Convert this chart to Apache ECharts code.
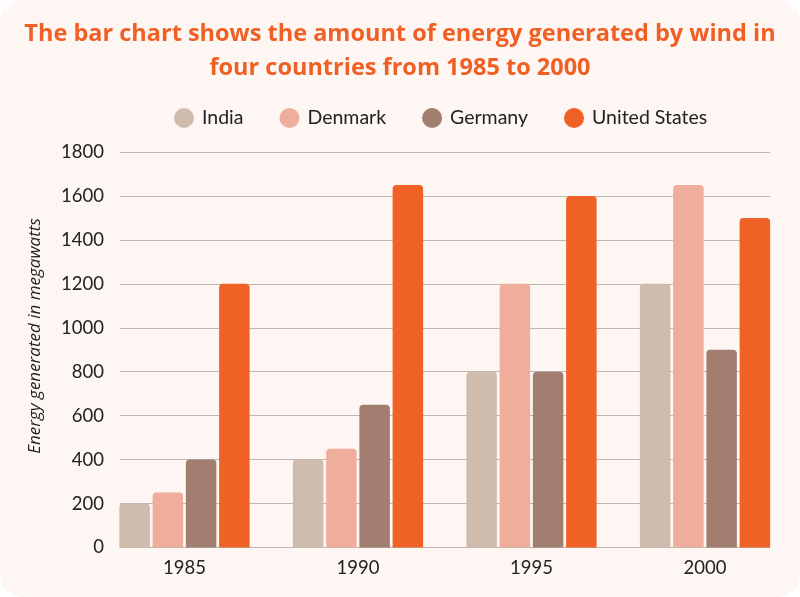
<!DOCTYPE html>
<html>
<head>
<meta charset="utf-8">
<script src="https://cdn.jsdelivr.net/npm/echarts@6/dist/echarts.min.js"></script>
<style>
    html, body { margin: 0; padding: 0; background: #ffffff; }
    #chart { width: 800px; height: 597px; background: #fdf6f2; border-radius: 22px; overflow: hidden; }
</style>
</head>
<body>
<div id="chart"></div>
<script>
var years = ['1985', '1990', '1995', '2000'];
var india = [200, 400, 800, 1200];
var denmark = [250, 450, 1200, 1650];
var germany = [400, 650, 800, 900];
var unitedStates = [1200, 1650, 1600, 1500];
var yTicks = [0, 200, 400, 600, 800, 1000, 1200, 1400, 1600, 1800];

var names = ['India', 'Denmark', 'Germany', 'United States'];
var colors = ['#d0bcad', '#efad9b', '#a27e70', '#f06125'];
var values = [india, denmark, germany, unitedStates];

var font = 'Lato';
var seriesData = [];
for (var i = 0; i < names.length; i++) {
    seriesData.push({
        name: names[i],
        type: 'bar',
        xAxisIndex: 0,
        yAxisIndex: 0,
        data: values[i],
        barWidth: 30.5,
        barGap: '9%',
        itemStyle: { color: colors[i], borderRadius: [4, 4, 0, 0] }
    });
}

var chart = echarts.init(document.getElementById('chart'));
chart.setOption({
    animation: false,
    color: colors,
    title: {
        text: 'The bar chart shows the amount of energy generated by wind in\nfour countries from 1985 to 2000',
        left: 'center',
        top: 12,
        textStyle: {
            fontFamily: 'Open Sans',
            fontWeight: 'bold',
            fontSize: 23.5,
            lineHeight: 34,
            color: '#f05f24'
        }
    },
    legend: {
        data: names,
        left: 169,
        top: 103,
        icon: 'circle',
        itemWidth: 20,
        itemHeight: 20,
        itemGap: 36,
        textStyle: { fontFamily: font, fontSize: 19.5, color: '#222222', padding: [0, 0, 0, 3] }
    },
    graphic: [{
        type: 'text',
        x: 35,
        y: 336,
        rotation: Math.PI / 2,
        style: {
            text: 'Energy generated in megawatts',
            font: 'italic 17px "Open Sans"',
            fill: '#222222',
            align: 'center',
            verticalAlign: 'middle'
        }
    }],
    grid: [
        { left: 97.75, right: 8.25, top: 152, bottom: 49.5 },
        { left: 120, right: 30, top: 152, bottom: 49.5 }
    ],
    xAxis: [{
        type: 'category',
        gridIndex: 0,
        data: years,
        axisLine: { show: false },
        axisTick: { show: false },
        axisLabel: { fontFamily: font, fontSize: 18.5, color: '#222222', margin: 11 }
    }, {
        type: 'value',
        gridIndex: 1,
        show: false
    }],
    yAxis: [{
        type: 'value',
        gridIndex: 0,
        min: 0,
        max: 1800,
        interval: 200,
        show: false
    }, {
        type: 'value',
        gridIndex: 1,
        min: yTicks[0],
        max: yTicks[yTicks.length - 1],
        interval: 200,
        axisLine: { show: false },
        axisTick: { show: false },
        axisLabel: {
            fontFamily: font, fontSize: 18.5, color: '#222222', margin: 16,
            formatter: function (value) { return String(value); }
        },
        splitLine: { lineStyle: { color: '#bdb7b3', width: 1.2 } },
        z: 0
    }],
    series: seriesData
});
</script>
</body>
</html>
